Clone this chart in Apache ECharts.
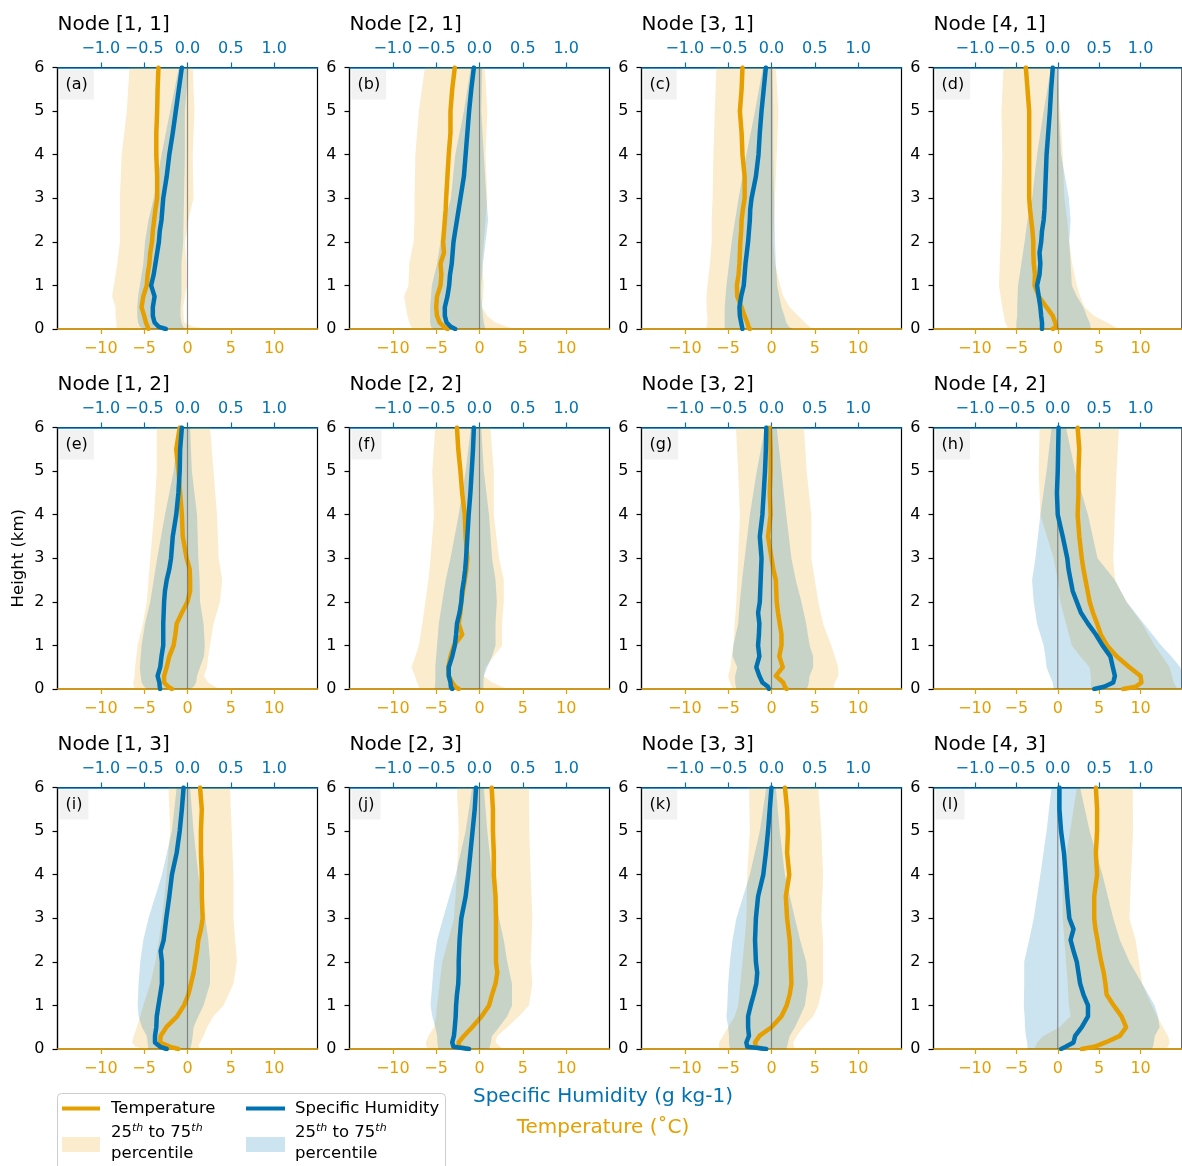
<!DOCTYPE html>
<html>
<head>
<meta charset="utf-8">
<script src="https://cdn.jsdelivr.net/npm/echarts@6/dist/echarts.min.js"></script>
<style>
html,body{margin:0;padding:0;background:#fff;}
#c{width:1182px;height:1166px;}
</style>
</head>
<body>
<div id="c"></div>
<script>
// ---------------- DATA ----------------
// Heights (km) at which the median profiles are given
const LINE_H = [0, 0.05, 0.15, 0.3, 0.5, 0.75, 1, 1.25, 1.5, 1.75, 2, 2.25, 2.5, 2.75, 3, 3.5, 4, 4.5, 5, 5.5, 6];
// Heights (km) at which the 25th / 75th percentiles are given
const BAND_H = [0, 0.05, 0.15, 0.3, 0.5, 0.75, 1, 1.5, 2, 2.5, 3, 4, 5, 6];

const PANEL_NAMES = ['Node [1, 1]', 'Node [2, 1]', 'Node [3, 1]', 'Node [4, 1]',
                     'Node [1, 2]', 'Node [2, 2]', 'Node [3, 2]', 'Node [4, 2]',
                     'Node [1, 3]', 'Node [2, 3]', 'Node [3, 3]', 'Node [4, 3]'];
const PANEL_LETTERS = ['(a)', '(b)', '(c)', '(d)', '(e)', '(f)', '(g)', '(h)', '(i)', '(j)', '(k)', '(l)'];

const TEMP_TICKS = [-10, -5, 0, 5, 10];
const HUM_TICKS = [-1.0, -0.5, 0.0, 0.5, 1.0];

// Temperature median (°C), one row per panel, at LINE_H
const tempMedian = [
  [-4.5,-4.6,-4.8,-5.0,-5.3,-5.1,-4.7,-4.6,-4.4,-4.3,-4.1,-4.0,-3.85,-3.7,-3.5,-3.5,-3.6,-3.6,-3.5,-3.45,-3.35],
  [-3.7,-4.1,-4.6,-4.9,-5.0,-4.9,-4.5,-4.4,-4.5,-4.1,-4.2,-4.1,-4.0,-3.9,-3.85,-3.7,-3.55,-3.35,-3.35,-3.15,-2.85],
  [-2.5,-2.65,-2.8,-3.1,-3.45,-3.95,-4.0,-3.8,-3.7,-3.65,-3.6,-3.5,-3.45,-3.3,-3.1,-3.1,-3.35,-3.45,-3.65,-3.45,-3.35],
  [-0.6,-0.2,-0.3,-0.6,-1.35,-2.3,-2.8,-2.75,-2.9,-2.95,-2.95,-3.05,-3.2,-3.35,-3.45,-3.45,-3.45,-3.45,-3.45,-3.65,-3.85],
  [-1.8,-2.2,-2.7,-2.7,-2.4,-2.1,-1.6,-1.4,-1.25,-0.65,0,0.3,0.3,0.25,-0.1,-0.55,-0.65,-0.85,-1.05,-1.3,-0.9],
  [-2.4,-2.8,-3.15,-3.55,-3.6,-3.35,-2.95,-2.0,-2.4,-2.2,-2.1,-1.9,-1.7,-1.5,-1.4,-1.6,-1.7,-2.0,-2.2,-2.45,-2.6],
  [1.75,1.55,1.35,0.5,1.3,0.9,1.15,1.15,0.95,0.75,0.6,0.55,0.5,0.2,0,-0.4,-0.1,-0.2,-0.1,-0.1,-0.2],
  [7.9,9.4,10.1,10.0,8.65,7.1,5.95,5.2,4.75,4.25,3.85,3.6,3.35,3.1,2.9,2.6,2.4,2.5,2.5,2.6,2.4],
  [-1.05,-2.0,-3.15,-3.1,-2.45,-1.2,-0.4,0.1,0.4,0.7,0.9,1.1,1.25,1.55,1.75,1.65,1.65,1.55,1.55,1.65,1.45],
  [-1.25,-2.4,-2.4,-1.8,-0.85,0.25,1.1,1.45,1.85,2.05,1.9,1.9,1.9,1.9,1.9,1.85,1.65,1.65,1.55,1.55,1.4],
  [-0.95,-1.8,-1.9,-1.4,0,1.15,1.75,2.1,2.3,2.25,2.2,2.15,2.1,1.95,1.8,1.65,2.05,1.8,1.9,1.8,1.55],
  [2.9,4.4,5.75,7.5,8.25,7.7,6.75,5.9,5.75,5.55,5.25,5.0,4.8,4.55,4.4,4.4,4.75,4.6,4.75,4.75,4.6]
];

// Specific humidity median (g kg-1), at LINE_H
const humMedian = [
  [-0.25,-0.33,-0.38,-0.40,-0.40,-0.38,-0.42,-0.39,-0.37,-0.35,-0.33,-0.32,-0.30,-0.29,-0.28,-0.24,-0.21,-0.17,-0.135,-0.10,-0.065],
  [-0.28,-0.33,-0.38,-0.40,-0.40,-0.37,-0.35,-0.34,-0.32,-0.31,-0.30,-0.28,-0.26,-0.24,-0.22,-0.18,-0.16,-0.14,-0.12,-0.095,-0.065],
  [-0.335,-0.34,-0.35,-0.365,-0.37,-0.35,-0.32,-0.31,-0.30,-0.285,-0.27,-0.26,-0.25,-0.245,-0.23,-0.18,-0.15,-0.135,-0.115,-0.09,-0.065],
  [-0.19,-0.19,-0.19,-0.2,-0.21,-0.23,-0.25,-0.22,-0.21,-0.22,-0.2,-0.19,-0.17,-0.16,-0.155,-0.145,-0.135,-0.115,-0.095,-0.08,-0.06],
  [-0.315,-0.32,-0.325,-0.345,-0.315,-0.30,-0.28,-0.28,-0.28,-0.275,-0.27,-0.26,-0.24,-0.21,-0.19,-0.17,-0.13,-0.105,-0.09,-0.085,-0.065],
  [-0.315,-0.33,-0.335,-0.355,-0.355,-0.315,-0.285,-0.27,-0.26,-0.23,-0.21,-0.2,-0.18,-0.165,-0.155,-0.14,-0.125,-0.105,-0.09,-0.075,-0.065],
  [-0.03,-0.04,-0.105,-0.14,-0.175,-0.14,-0.155,-0.145,-0.14,-0.155,-0.135,-0.13,-0.125,-0.12,-0.115,-0.135,-0.105,-0.09,-0.075,-0.065,-0.06],
  [0.44,0.56,0.67,0.69,0.665,0.635,0.54,0.46,0.365,0.28,0.23,0.18,0.155,0.13,0.115,0.06,0,-0.01,0,0.005,0.01],
  [-0.24,-0.315,-0.375,-0.375,-0.36,-0.355,-0.335,-0.315,-0.295,-0.295,-0.295,-0.31,-0.275,-0.26,-0.245,-0.21,-0.18,-0.125,-0.09,-0.065,-0.045],
  [-0.12,-0.3,-0.315,-0.295,-0.285,-0.275,-0.27,-0.26,-0.245,-0.24,-0.24,-0.235,-0.23,-0.22,-0.21,-0.16,-0.13,-0.105,-0.08,-0.055,-0.04],
  [-0.06,-0.28,-0.29,-0.26,-0.27,-0.27,-0.24,-0.205,-0.175,-0.165,-0.18,-0.185,-0.19,-0.185,-0.18,-0.155,-0.095,-0.065,-0.04,-0.02,0],
  [0.04,0.095,0.19,0.21,0.29,0.365,0.365,0.31,0.27,0.25,0.23,0.19,0.155,0.19,0.14,0.115,0.095,0.075,0.04,0.02,0.02]
];

// Temperature 25th / 75th percentiles (°C), at BAND_H
const temp25 = [
  [-8.1,-8.2,-8.2,-8.3,-8.3,-8.7,-8.5,-8.1,-7.8,-7.8,-7.8,-7.6,-7.0,-6.7],
  [-7.6,-7.9,-8.1,-8.3,-8.5,-8.7,-8.2,-8.1,-7.6,-7.5,-7.5,-7.4,-7.0,-6.3],
  [-7.6,-7.5,-7.4,-7.4,-7.5,-7.5,-7.4,-7.1,-6.9,-6.9,-6.8,-6.7,-6.55,-6.35],
  [-5.95,-6.1,-6.35,-6.5,-6.7,-6.9,-7.1,-7.0,-6.9,-6.8,-6.8,-6.7,-6.8,-6.55],
  [-6.05,-6.2,-6.25,-6.1,-6.05,-5.9,-5.75,-5.15,-4.7,-4.5,-4.3,-3.85,-3.55,-3.55],
  [-6.8,-7.0,-7.2,-7.45,-7.85,-7.4,-7.0,-6.6,-6.25,-5.9,-5.65,-5.25,-5.45,-5.1],
  [-4.4,-4.6,-4.8,-5.0,-4.75,-4.6,-4.4,-4.25,-4.05,-3.95,-3.85,-3.65,-3.85,-4.1],
  [3.9,4.0,4.0,4.0,3.85,2.7,1.7,1.0,0.3,0.0,-0.5,-2.1,-2.3,-2.2],
  [-4.9,-6.0,-6.4,-6.2,-5.85,-5.45,-5.1,-4.3,-3.7,-3.3,-2.95,-2.4,-2.0,-2.2],
  [-5.85,-6.1,-6.2,-5.9,-5.25,-5.0,-4.9,-4.6,-4.3,-3.6,-2.95,-2.6,-2.4,-2.6],
  [-6.05,-6.05,-6.05,-5.6,-5.0,-4.25,-3.85,-3.6,-3.35,-3.1,-2.9,-2.8,-2.5,-2.6],
  [-2.9,-2.7,-2.5,-1.75,0.2,1.55,1.35,1.2,1.0,0.8,0.6,0.6,1.5,2.3]
];
const temp75 = [
  [2.5,0.7,-0.4,-0.45,-0.5,-0.3,-0.1,-0.15,-0.3,0.1,0.7,0.6,0.8,0.6],
  [4.2,3.2,1.8,0.9,0.3,0.4,0.5,0.3,0.5,0.7,0.9,0.7,0.9,0.6],
  [4.8,4.4,3.85,3.1,2.1,1.35,1.0,0.4,0.2,0.3,0.4,0.6,0.8,0.5],
  [7.3,6.9,5.95,4.4,3.25,2.7,2.3,1.75,1.35,1.15,0.8,0.6,0.3,-0.2],
  [3.6,3.2,2.4,1.9,2.25,2.4,2.6,3.0,3.75,4.0,3.6,3.4,3.0,2.6],
  [3.2,2.6,1.45,0.5,0.7,1.65,2.6,2.6,2.8,2.8,2.25,1.65,1.65,1.25],
  [7.1,7.2,7.3,7.7,7.7,7.3,6.9,5.95,5.4,5.0,4.6,4.6,4.05,3.75],
  [14.5,14.3,14.0,13.8,13.5,12.6,11.7,10.2,8.3,6.9,6.7,6.9,7.1,7.4],
  [1.65,1.25,1.45,1.85,2.25,3.0,4.15,5.3,5.7,5.5,5.3,5.3,5.1,4.9],
  [2.8,2.4,1.85,2.05,3.2,4.55,5.7,6.1,5.9,6.0,6.1,5.9,5.75,5.7],
  [2.7,2.6,2.5,2.9,3.65,4.8,5.4,5.95,5.95,5.95,5.75,5.95,5.75,5.4],
  [13.1,13.3,13.5,13.3,12.7,12.0,11.35,10.2,9.8,9.4,8.65,8.85,9.1,9.05]
];

// Specific humidity 25th / 75th percentiles (g kg-1), at BAND_H
const hum25 = [
  [-0.51,-0.55,-0.57,-0.58,-0.58,-0.57,-0.55,-0.51,-0.49,-0.45,-0.39,-0.30,-0.2,-0.1],
  [-0.53,-0.56,-0.57,-0.57,-0.57,-0.56,-0.55,-0.49,-0.45,-0.40,-0.33,-0.28,-0.18,-0.10],
  [-0.54,-0.54,-0.54,-0.54,-0.54,-0.53,-0.52,-0.49,-0.46,-0.42,-0.38,-0.29,-0.19,-0.10],
  [-0.5,-0.5,-0.5,-0.49,-0.49,-0.485,-0.48,-0.44,-0.4,-0.365,-0.31,-0.25,-0.17,-0.08],
  [-0.47,-0.5,-0.53,-0.54,-0.55,-0.54,-0.53,-0.49,-0.43,-0.39,-0.35,-0.26,-0.16,-0.1],
  [-0.515,-0.515,-0.51,-0.51,-0.51,-0.5,-0.49,-0.47,-0.43,-0.39,-0.335,-0.24,-0.16,-0.1],
  [-0.405,-0.41,-0.42,-0.42,-0.395,-0.45,-0.44,-0.385,-0.365,-0.34,-0.31,-0.25,-0.17,-0.075],
  [-0.05,-0.055,-0.06,-0.095,-0.135,-0.15,-0.17,-0.25,-0.29,-0.31,-0.27,-0.21,-0.135,-0.075],
  [-0.45,-0.455,-0.46,-0.47,-0.525,-0.565,-0.575,-0.565,-0.545,-0.51,-0.45,-0.295,-0.18,-0.125],
  [-0.475,-0.48,-0.485,-0.49,-0.51,-0.545,-0.565,-0.545,-0.525,-0.49,-0.42,-0.275,-0.16,-0.085],
  [-0.48,-0.485,-0.49,-0.49,-0.5,-0.52,-0.51,-0.5,-0.48,-0.45,-0.405,-0.25,-0.135,-0.06],
  [-0.365,-0.365,-0.37,-0.385,-0.395,-0.4,-0.41,-0.405,-0.405,-0.345,-0.29,-0.21,-0.135,-0.075]
];
const hum75 = [
  [-0.01,-0.05,-0.07,-0.08,-0.08,-0.07,-0.07,-0.07,-0.05,-0.045,-0.04,-0.03,-0.03,0.01],
  [0.07,0.06,0.05,0.04,0.03,0.02,0.02,0.04,0.07,0.1,0.08,0.05,0.02,0.03],
  [0.25,0.2,0.17,0.15,0.115,0.09,0.065,0.05,0.04,0.035,0.03,0.02,0.02,0.01],
  [0.4,0.395,0.385,0.35,0.31,0.23,0.17,0.155,0.14,0.155,0.135,0.04,0.01,0.02],
  [0.03,0.07,0.1,0.11,0.145,0.19,0.2,0.185,0.145,0.14,0.125,0.11,0.05,0.03],
  [0.04,0.045,0.045,0.05,0.09,0.145,0.185,0.185,0.2,0.185,0.145,0.11,0.05,0.02],
  [0.4,0.42,0.43,0.44,0.48,0.48,0.44,0.4,0.345,0.28,0.23,0.17,0.115,0.06],
  [1.55,1.52,1.5,1.5,1.48,1.37,1.25,1.04,0.83,0.69,0.48,0.365,0.21,0.1],
  [0.03,0.04,0.05,0.06,0.07,0.125,0.185,0.26,0.26,0.24,0.205,0.125,0.07,0.03],
  [0.11,0.12,0.13,0.145,0.225,0.32,0.375,0.375,0.32,0.28,0.225,0.145,0.09,0.05],
  [0.17,0.18,0.19,0.21,0.27,0.33,0.385,0.42,0.4,0.33,0.27,0.155,0.095,0.05],
  [1.13,1.15,1.16,1.17,1.23,1.21,1.17,1.02,0.865,0.75,0.67,0.54,0.385,0.27]
];

// ---------------- STYLE / LAYOUT ----------------
const ORANGE = '#E69F00';
const BLUE = '#0072B2';
const ORANGE_FILL = 'rgba(230,159,0,0.2)';
const BLUE_FILL = 'rgba(0,114,178,0.2)';
const FONT = 'DejaVu Sans';
const LEFTS = [57.5, 349.5, 641.5, 933.5];
const TOPS = [67.5, 427.5, 787.5];
const GW = 260, GH = 261.5;
const TICK_FS = 16;

const minusFmt = (v, d) => (v < 0 ? '\u2212' : '') + (d ? Math.abs(v).toFixed(d) : String(Math.abs(v)));

function bandSeries(p, lo, hi, xAxisIndex, color) {
  const data = BAND_H.map((h, i) => [lo[p][i], hi[p][i], h]);
  return {
    type: 'custom', xAxisIndex: xAxisIndex, yAxisIndex: p, clip: true, silent: true,
    encode: { x: [0, 1], y: 2 },
    data: data,
    renderItem: function (params, api) {
      if (params.dataIndex !== 0) return null;
      const pts = [];
      for (let i = 0; i < data.length; i++) pts.push(api.coord([data[i][0], data[i][2]]));
      for (let i = data.length - 1; i >= 0; i--) pts.push(api.coord([data[i][1], data[i][2]]));
      return { type: 'polygon', shape: { points: pts }, style: { fill: color } };
    }
  };
}

const grids = [], xAxes = [], yAxes = [], series = [], titles = [];
for (let p = 0; p < 12; p++) {
  const r = Math.floor(p / 4), c = p % 4;
  grids.push({ left: LEFTS[c], top: TOPS[r], width: GW, height: GH, show: true,
    borderColor: '#000', borderWidth: 1.2, backgroundColor: 'rgba(0,0,0,0)' });
  // bottom temperature axis (index 2p)
  xAxes.push({ gridIndex: p, type: 'value', position: 'bottom', min: -15, max: 15,
    axisLine: { show: true, onZero: false, lineStyle: { color: ORANGE, width: 1.5 } },
    axisTick: { show: true, customValues: TEMP_TICKS, length: 5, lineStyle: { color: ORANGE, width: 1.2 } },
    axisLabel: { customValues: TEMP_TICKS, formatter: v => minusFmt(v, 0), color: ORANGE,
      fontSize: TICK_FS, fontFamily: FONT, margin: 12 },
    splitLine: { show: false } });
  // top humidity axis (index 2p+1)
  xAxes.push({ gridIndex: p, type: 'value', position: 'top', min: -1.5, max: 1.5,
    axisLine: { show: true, onZero: false, lineStyle: { color: BLUE, width: 1.5 } },
    axisTick: { show: true, customValues: HUM_TICKS, length: 5, lineStyle: { color: BLUE, width: 1.2 } },
    axisLabel: { customValues: HUM_TICKS, formatter: v => minusFmt(v, 1), color: BLUE,
      fontSize: TICK_FS, fontFamily: FONT, margin: 11 },
    splitLine: { show: false } });
  const y = { gridIndex: p, type: 'value', min: 0, max: 6, interval: 1,
    axisLine: { show: true, onZero: false, lineStyle: { color: '#000', width: 1.2 } },
    axisTick: { show: true, length: 5, lineStyle: { color: '#000', width: 1.2 } },
    axisLabel: { color: '#000', fontSize: TICK_FS, fontFamily: FONT, margin: 13 },
    splitLine: { show: false } };
  if (p === 4) {
    y.name = 'Height (km)'; y.nameLocation = 'middle'; y.nameGap = 30; y.nameRotate = 90;
    y.nameTextStyle = { color: '#000', fontSize: 16.5, fontFamily: FONT };
  }
  yAxes.push(y);

  series.push(bandSeries(p, temp25, temp75, 2 * p, ORANGE_FILL));
  series.push({ type: 'line', xAxisIndex: 2 * p, yAxisIndex: p, silent: true, symbol: 'none',
    data: LINE_H.map((h, i) => [tempMedian[p][i], h]),
    lineStyle: { color: ORANGE, width: 4.5, cap: 'round', join: 'round' } });
  series.push(bandSeries(p, hum25, hum75, 2 * p + 1, BLUE_FILL));
  series.push({ type: 'line', xAxisIndex: 2 * p, yAxisIndex: p, silent: true, symbol: 'none',
    data: [[0, 0], [0, 6]], lineStyle: { color: 'rgba(90,90,90,0.65)', width: 1.2 } });
  series.push({ type: 'line', xAxisIndex: 2 * p + 1, yAxisIndex: p, silent: true, symbol: 'none',
    data: LINE_H.map((h, i) => [humMedian[p][i], h]),
    lineStyle: { color: BLUE, width: 4.5, cap: 'round', join: 'round' } });

  titles.push({ text: PANEL_NAMES[p], left: LEFTS[c], top: TOPS[r] - 53, padding: 0,
    textStyle: { fontSize: 20, fontWeight: 'normal', color: '#000', fontFamily: FONT } });
  titles.push({ text: PANEL_LETTERS[p], left: LEFTS[c] + 2, top: TOPS[r] + 2, padding: [7, 6],
    backgroundColor: '#F2F2F2',
    textStyle: { fontSize: 16, lineHeight: 16, fontWeight: 'normal', color: '#000', fontFamily: FONT } });
}

function gText(txt, x, y, fill, font, align, rich) {
  const st = { text: txt, fill: fill, font: font, align: align || 'left', verticalAlign: 'middle' };
  if (rich) st.rich = rich;
  return { type: 'text', x: x, y: y, style: st };
}
const LFONT = '16.5px "DejaVu Sans"';
const richSup = { s: { fontSize: 11, fontStyle: 'italic', fontFamily: FONT, verticalAlign: 'top', lineHeight: 20 } };
const graphic = [
  gText('Specific Humidity (g kg-1)', 603, 1097, BLUE, '20px "DejaVu Sans"', 'center'),
  gText('Temperature (\u02DAC)', 603, 1128, ORANGE, '20px "DejaVu Sans"', 'center'),
  { type: 'rect', shape: { x: 57.5, y: 1093.5, width: 388, height: 90, r: 4 },
    style: { fill: '#fff', stroke: '#cccccc', lineWidth: 1 } },
  { type: 'line', shape: { x1: 62, y1: 1108.5, x2: 100, y2: 1108.5 }, style: { stroke: ORANGE, lineWidth: 4 } },
  { type: 'rect', shape: { x: 62, y: 1137, width: 38, height: 15 }, style: { fill: ORANGE_FILL } },
  { type: 'line', shape: { x1: 246, y1: 1108.5, x2: 285, y2: 1108.5 }, style: { stroke: BLUE, lineWidth: 4 } },
  { type: 'rect', shape: { x: 246, y: 1137, width: 39, height: 15 }, style: { fill: BLUE_FILL } },
  gText('Temperature', 111, 1109, '#000', LFONT),
  gText('Specific Humidity', 295, 1109, '#000', LFONT),
  gText('percentile', 111, 1154, '#000', LFONT),
  gText('percentile', 295, 1154, '#000', LFONT),
  gText('25{s|th} to 75{s|th}', 111, 1133, '#000', LFONT, 'left', richSup),
  gText('25{s|th} to 75{s|th}', 295, 1133, '#000', LFONT, 'left', richSup)
];

const chart = echarts.init(document.getElementById('c'), null, { renderer: 'canvas' });
chart.setOption({
  animation: false,
  backgroundColor: '#fff',
  title: titles,
  grid: grids,
  xAxis: xAxes,
  yAxis: yAxes,
  series: series,
  graphic: graphic
});
</script>
</body>
</html>
